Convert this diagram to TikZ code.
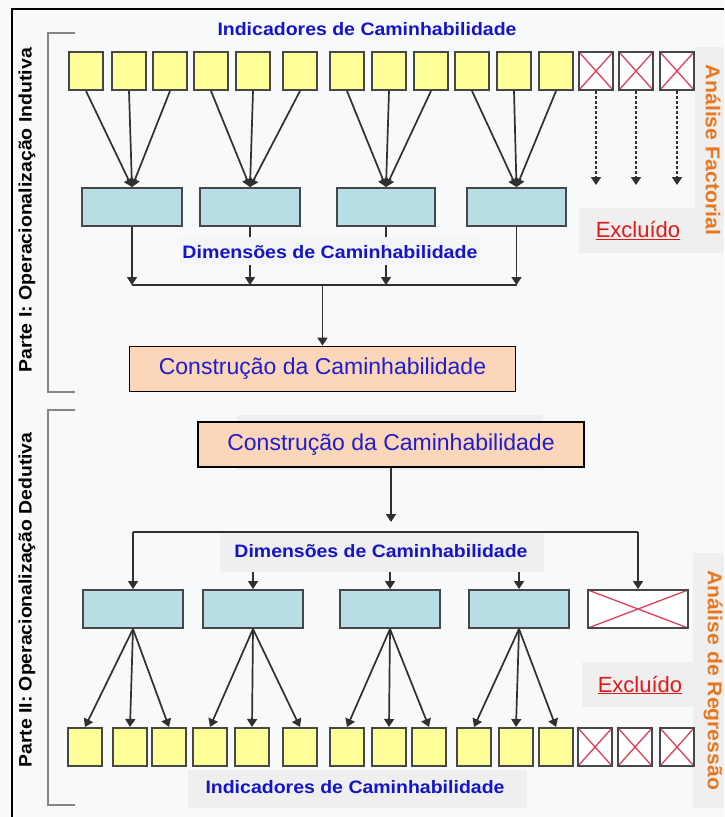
\documentclass[tikz,border=0pt]{standalone}
\usepackage{fontspec}
\setmainfont{Liberation Sans}
\usepackage{graphicx}
\usetikzlibrary{arrows.meta}

\definecolor{pagebg}{HTML}{F8F9FB}
\definecolor{labbg}{HTML}{EFEFF0}
\definecolor{yelw}{HTML}{FFFF99}
\definecolor{dimfill}{HTML}{B7DEE4}
\definecolor{peach}{HTML}{FBD6B8}
\definecolor{bord}{HTML}{474747}
\definecolor{lnk}{HTML}{303030}
\definecolor{lblue}{HTML}{1414C8}
\definecolor{cblue}{HTML}{1E1ECC}
\definecolor{xred}{HTML}{E0405A}
\definecolor{exred}{HTML}{E01818}
\definecolor{orng}{HTML}{E8771E}
\definecolor{brk}{HTML}{858585}

\tikzset{
  crossed/.style={path picture={
    \draw[xred,line width=1.3pt]
      (path picture bounding box.north west) -- (path picture bounding box.south east)
      (path picture bounding box.south west) -- (path picture bounding box.north east);}},
  ind/.style={draw=bord,line width=2pt,fill=yelw,minimum width=34pt,minimum height=38pt,inner sep=0pt},
  xind/.style={ind,fill=white,crossed},
  dimbox/.style={draw=bord,line width=2pt,fill=dimfill,minimum width=100pt,minimum height=38pt,inner sep=0pt},
  xdim/.style={dimbox,fill=white,crossed},
  cons/.style={draw=black,line width=1.8pt,fill=peach,minimum width=386pt,minimum height=45pt,
    inner sep=0pt,text=cblue,font=\fontsize{23}{26}\selectfont},
  link/.style={draw=lnk,line width=1.7pt,-{Triangle[width=10pt,length=8pt]}},
  plain/.style={draw=lnk,line width=1.7pt},
  dlink/.style={link,dash pattern=on 3pt off 2pt},
  bluelab/.style={text=lblue,font=\fontsize{18}{20}\selectfont\bfseries,inner sep=0pt},
  labfill/.style={fill=labbg,inner sep=0pt},
  partlab/.style={text=black,font=\fontsize{18}{20}\selectfont\bfseries,rotate=90,inner sep=0pt},
  sidelab/.style={text=orng,font=\fontsize{20}{22}\selectfont\bfseries,rotate=-90,inner sep=0pt},
  exlab/.style={text=exred,font=\fontsize{22}{24}\selectfont,inner sep=0pt},
  bracket/.style={draw=brk,line width=2pt},
  frame/.style={draw=black,line width=2pt}
}

\begin{document}
\begin{tikzpicture}[x=1pt,y=-1pt]
  % page and backgrounds
  \fill[pagebg] (0,0) rectangle (724,817);
  \useasboundingbox (0,0) rectangle (724,817);
  \fill[labbg] (695,47) rectangle (724,253);
  \fill[labbg] (693,553) rectangle (724,808);
  \fill[labbg] (237,415) rectangle (543,470);

  % outer frame (left and top)
  \draw[frame] (12,817) -- (12,9) -- (724,9);

  % brackets of the two parts
  \draw[bracket] (75,33) -- (48,33) -- (48,392) -- (75,392);
  \draw[bracket] (75,410) -- (48,410) -- (48,805) -- (75,805);

  % ---------------- Parte I ----------------
  \foreach \cx [count=\i] in {86,129,170,211,253,300,347,389,431,472,514,556}
    \node[ind] (a\i) at (\cx,71) {};
  \foreach \cx [count=\i] in {596,636,677}
    \node[xind] (xa\i) at (\cx,71) {};

  \node[dimbox] (d1) at (132,207) {};
  \node[dimbox] (d2) at (250,207) {};
  \node[dimbox,minimum width=98pt] (d3) at (386,207) {};
  \node[dimbox,minimum width=99pt] (d4) at (516.5,207) {};

  \foreach \k [evaluate=\k as \f using int(3*\k-2), evaluate=\k as \g using int(3*\k-1), evaluate=\k as \h using int(3*\k)] in {1,2,3,4}{
    \draw[link] (a\f.south) -- (d\k.north);
    \draw[link] (a\g.south) -- (d\k.north);
    \draw[link] (a\h.south) -- (d\k.north);
  }

  \foreach \i/\cx in {1/596,2/636,3/677}{
    \coordinate (xt\i) at (\cx,185);
    \draw[dlink] (xa\i.south) -- (xt\i);
  }

  \node[cons] (c1) at (322.5,369) {Construção da Caminhabilidade};
  \coordinate (jI) at (322.5,285);
  \foreach \k in {1,2,3,4}
    \draw[link] (d\k.south) -- (d\k.south |- jI);
  \draw[plain] (d1.south |- jI) -- (d4.south |- jI);
  \draw[link] (jI) -- (c1.north);

  \node[bluelab] (tI) at (367,29) {\resizebox{299pt}{\height}{Indicadores de Caminhabilidade}};
  \node[labfill,fill=pagebg!98.5!black,minimum width=300pt,minimum height=28pt] (gI) at (330,251) {};
  \node[bluelab] (dI) at (330,252) {\resizebox{295pt}{\height}{Dimensões de Caminhabilidade}};

  \node[labfill,minimum width=116pt,minimum height=45pt] (eIbg) at (637,230.5) {};
  \node[exlab] (eI) at (638,231) {\underline{Excluído}};

  \node[partlab] (pI) at (27,210) {\resizebox{324pt}{\height}{Parte I: Operacionalização Indutiva}};
  \node[sidelab] (sI) at (713,150) {\resizebox{170pt}{\height}{Análise Factorial}};

  % ---------------- Parte II ----------------
  \node[cons] (c2) at (391,444.5) {Construção da Caminhabilidade};

  \node[dimbox] (e1) at (133,609) {};
  \node[dimbox] (e2) at (253,609) {};
  \node[dimbox] (e3) at (390,609) {};
  \node[dimbox] (e4) at (519,609) {};
  \node[xdim] (e5) at (638,609) {};

  \foreach \cx [count=\i] in {85,130,169,210,252,300,347,389,429,474,516,556}
    \node[ind] (b\i) at (\cx,747) {};
  \foreach \cx [count=\i] in {595,635,677}
    \node[xind] (xb\i) at (\cx,747) {};

  \coordinate (jIIa) at (391,522);
  \coordinate (jII) at (389,532);
  \draw[link] (c2.south) -- (jIIa);
  \draw[plain] (e1.north |- jII) -- (e5.north |- jII);
  \foreach \k in {1,2,3,4,5}
    \draw[link] (e\k.north |- jII) -- (e\k.north);

  \foreach \k [evaluate=\k as \f using int(3*\k-2), evaluate=\k as \g using int(3*\k-1), evaluate=\k as \h using int(3*\k)] in {1,2,3,4}{
    \draw[link] (e\k.south) -- (b\f.north);
    \draw[link] (e\k.south) -- (b\g.north);
    \draw[link] (e\k.south) -- (b\h.north);
  }

  \node[labfill,minimum width=324pt,minimum height=39pt] (gII) at (382,552.5) {};
  \node[bluelab] (dII) at (381,551) {\resizebox{293pt}{\height}{Dimensões de Caminhabilidade}};

  \node[labfill,minimum width=339pt,minimum height=38pt] (gIII) at (357.5,789) {};
  \node[bluelab] (tII) at (355,787) {\resizebox{299pt}{\height}{Indicadores de Caminhabilidade}};

  \node[labfill,minimum width=111pt,minimum height=45pt] (eIIbg) at (637.5,684.5) {};
  \node[exlab] (eII) at (640,685) {\underline{Excluído}};

  \node[partlab] (pII) at (27,600) {\resizebox{335pt}{\height}{Parte II: Operacionalização Dedutiva}};
  \node[sidelab] (sII) at (713,680) {\resizebox{220pt}{\height}{Análise de Regressão}};
\end{tikzpicture}
\end{document}
